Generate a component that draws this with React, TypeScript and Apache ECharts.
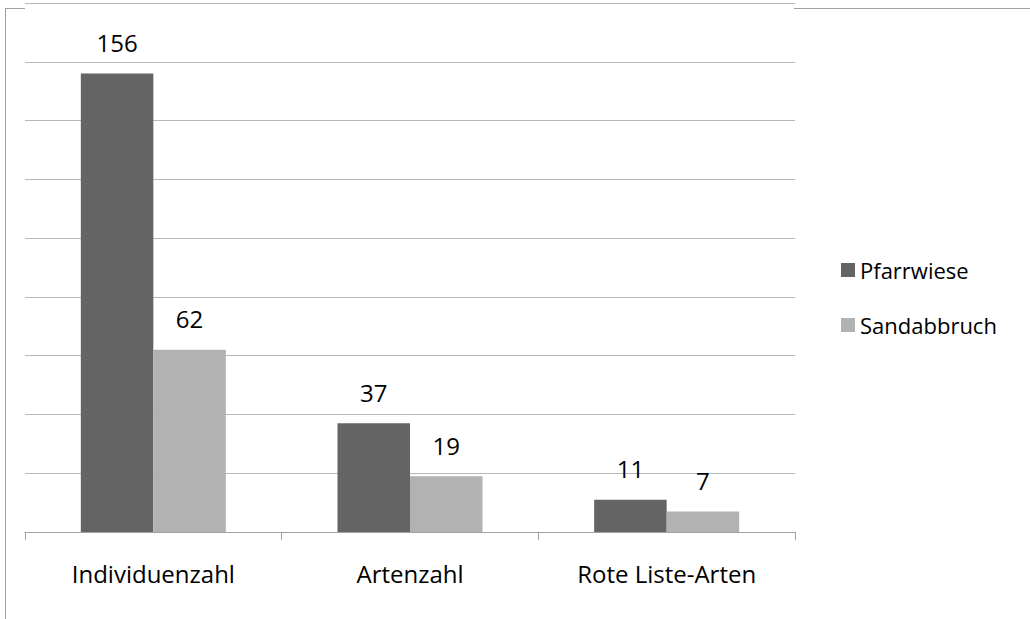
import React, { useEffect, useRef } from "react";
import * as echarts from "echarts";

const categories = ["Individuenzahl", "Artenzahl", "Rote Liste-Arten"];
const seriesNames = ["Pfarrwiese", "Sandabbruch"];
const pfarrwiese = [156, 37, 11];
const sandabbruch = [62, 19, 7];
const colors = ["#646464", "#b2b2b2"];

export default function App() {
  const ref = useRef<HTMLDivElement>(null);
  useEffect(() => {
    if (!ref.current) return;
    const chart = echarts.init(ref.current, undefined, { renderer: "svg" });
    const font = "'Open Sans', sans-serif";
    chart.setOption({
      animation: false,
      backgroundColor: "#ffffff",
      textStyle: { fontFamily: font },
      grid: { left: 25, right: 235, top: 3, bottom: 87, containLabel: false },
      legend: {
        orient: "vertical",
        left: 836,
        top: 254,
        itemWidth: 14,
        itemHeight: 14,
        itemGap: 33,
        icon: "rect",
        textStyle: { fontFamily: font, fontSize: 22, color: "#000" },
        data: seriesNames,
      },
      xAxis: {
        type: "category",
        data: categories,
        axisLine: { lineStyle: { color: "#a0a0a0", width: 1 } },
        axisTick: { show: true, length: 8, lineStyle: { color: "#a0a0a0" } },
        axisLabel: { fontFamily: font, fontSize: 24, color: "#000", margin: 29 },
      },
      yAxis: {
        type: "value",
        min: 0,
        max: 180,
        interval: 20,
        axisLine: { show: false },
        axisTick: { show: false },
        axisLabel: { show: false },
        splitLine: { lineStyle: { color: "#b8b8b8", width: 1 } },
      },
      series: [
        {
          name: seriesNames[0],
          type: "bar",
          data: pfarrwiese,
          itemStyle: { color: colors[0] },
          barGap: "0%",
          barCategoryGap: "43.5%",
          label: { show: true, position: "top", distance: 19, fontFamily: font, fontSize: 24, color: "#000" },
        },
        {
          name: seriesNames[1],
          type: "bar",
          data: sandabbruch,
          itemStyle: { color: colors[1] },
          barGap: "0%",
          barCategoryGap: "43.5%",
          label: { show: true, position: "top", distance: 19, fontFamily: font, fontSize: 24, color: "#000" },
        },
      ],
      graphic: [
        { type: "line", shape: { x1: 5.5, y1: 8.5, x2: 5.5, y2: 619 }, style: { stroke: "#a0a0a0", lineWidth: 1 } },
        { type: "line", shape: { x1: 5, y1: 8.5, x2: 25, y2: 8.5 }, style: { stroke: "#a0a0a0", lineWidth: 1 } },
        { type: "line", shape: { x1: 794, y1: 8.5, x2: 1030, y2: 8.5 }, style: { stroke: "#a0a0a0", lineWidth: 1 } },
      ],
    });
    return () => chart.dispose();
  }, []);
  return <div ref={ref} style={{ width: 1030, height: 619, position: "absolute", left: 0, top: 0 }} />;
}
